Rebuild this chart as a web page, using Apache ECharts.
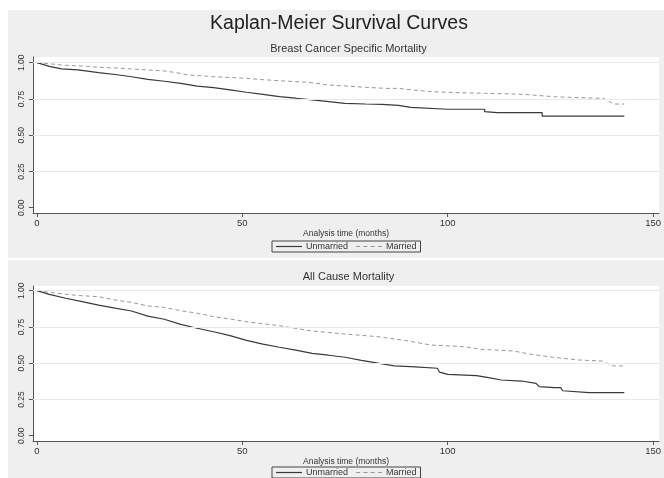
<!DOCTYPE html>
<html>
<head>
<meta charset="utf-8">
<script src="https://cdn.jsdelivr.net/npm/echarts@6/dist/echarts.min.js"></script>
<style>
html,body{margin:0;padding:0;background:#fff;}
#chart{width:664px;height:478px;}
</style>
</head>
<body>
<div id="chart"></div>
<script>
// ---- Data ----
var xTicks = [0, 50, 100, 150];
var yTicks = [0, 0.25, 0.5, 0.75, 1.0];
var seriesNames = ['Unmarried', 'Married'];
var titles = ['Kaplan-Meier Survival Curves', 'Breast Cancer Specific Mortality', 'All Cause Mortality'];
var xAxisTitle = 'Analysis time (months)';

// Breast cancer specific mortality (time in months, survival probability)
var bcsmUnmarriedTime = [0, 3, 6, 10, 15, 20, 23, 27, 31, 35, 39, 43, 47, 51, 55, 59, 63, 67, 71, 75, 80, 84, 88, 91, 100, 109, 109, 112, 123, 123, 143];
var bcsmUnmarriedSurv = [1.0, 0.975, 0.957, 0.95, 0.931, 0.915, 0.903, 0.885, 0.872, 0.858, 0.839, 0.828, 0.812, 0.796, 0.781, 0.766, 0.755, 0.743, 0.732, 0.72, 0.715, 0.712, 0.706, 0.692, 0.679, 0.679, 0.662, 0.655, 0.655, 0.632, 0.632];
var bcsmMarriedTime = [0, 4, 6, 12, 15, 20, 23, 27, 31, 34, 37, 40, 43, 48, 51, 55, 60, 66, 71, 76, 80, 85, 88, 90, 96, 103, 109, 118.5, 118.5, 126, 132, 138, 139, 140.5, 143];
var bcsmMarriedSurv = [1.0, 0.99, 0.984, 0.975, 0.968, 0.963, 0.957, 0.95, 0.943, 0.931, 0.915, 0.91, 0.903, 0.897, 0.892, 0.883, 0.874, 0.865, 0.846, 0.838, 0.83, 0.823, 0.823, 0.816, 0.80, 0.793, 0.789, 0.782, 0.77, 0.765, 0.759, 0.754, 0.736, 0.715, 0.715];

// All cause mortality
var acmUnmarriedTime = [0, 3, 7, 11, 15, 19, 23, 27, 31, 35, 39, 43, 47, 51, 55, 59, 63, 67, 71, 75, 79, 83, 87, 91, 97.5, 98, 100, 107, 110, 113, 118, 121.5, 122.3, 126, 127.5, 128, 134.4, 143];
var acmUnmarriedSurv = [1.0, 0.975, 0.948, 0.925, 0.901, 0.88, 0.86, 0.825, 0.803, 0.768, 0.741, 0.717, 0.69, 0.657, 0.632, 0.61, 0.59, 0.568, 0.555, 0.541, 0.52, 0.5, 0.481, 0.476, 0.465, 0.438, 0.423, 0.414, 0.4, 0.384, 0.377, 0.361, 0.338, 0.331, 0.331, 0.31, 0.297, 0.297];
var acmMarriedTime = [0, 4, 7, 11, 15, 19, 23, 27, 31, 35, 39, 43, 47, 51, 55, 59, 63, 67, 71, 75, 79, 83, 87, 90, 93, 96, 104, 108, 116, 120, 125.5, 132, 137.6, 139.2, 140.4, 143];
var acmMarriedSurv = [1.0, 0.985, 0.975, 0.965, 0.959, 0.936, 0.92, 0.895, 0.885, 0.862, 0.845, 0.821, 0.805, 0.786, 0.772, 0.759, 0.74, 0.722, 0.712, 0.701, 0.692, 0.683, 0.667, 0.655, 0.64, 0.625, 0.614, 0.596, 0.584, 0.563, 0.541, 0.522, 0.515, 0.495, 0.481, 0.481];

function pairs(t, v) { return t.map(function (x, i) { return [x, v[i]]; }); }

var FONT = "'Liberation Sans', Arial, sans-serif";
var AXIS_COLOR = '#555';
var TEXT_COLOR = '#333';
var SOLID_COLOR = '#3a3a3a';
var DASH_COLOR = '#999999';

function makeX(gi) {
  return {
    type: 'value', gridIndex: gi, min: -0.97, max: 151.45,
    axisLine: { show: true, onZero: false, lineStyle: { color: AXIS_COLOR, width: 1 } },
    axisTick: { show: true, length: 4, customValues: xTicks, lineStyle: { color: AXIS_COLOR } },
    axisLabel: { customValues: xTicks, color: TEXT_COLOR, fontSize: 9.5, fontFamily: FONT, margin: 5 },
    splitLine: { show: false },
    name: xAxisTitle, nameLocation: 'middle', nameGap: 8,
    nameTextStyle: { color: TEXT_COLOR, fontSize: 8.5, fontFamily: FONT }
  };
}
function makeY(gi, max) {
  return {
    type: 'value', gridIndex: gi, min: -0.0366, max: max,
    axisLine: { show: true, onZero: false, lineStyle: { color: AXIS_COLOR, width: 1 } },
    axisTick: { show: true, length: 4, customValues: yTicks, lineStyle: { color: AXIS_COLOR } },
    axisLabel: { customValues: yTicks, rotate: 90, color: TEXT_COLOR, fontSize: 8.5, fontFamily: FONT, margin: 7,
      formatter: function (v) { return v.toFixed(2); } },
    splitLine: { show: false }
  };
}
var gridLineMark = {
  silent: true, symbol: 'none', label: { show: false },
  lineStyle: { color: '#e9e9e9', type: 'solid', width: 1 },
  data: yTicks.filter(function (v) { return v > 0; }).map(function (v) { return { yAxis: v }; })
};
function makeSeries(gi, name, data, dashed, withGrid) {
  var s = {
    type: 'line', name: name, xAxisIndex: gi, yAxisIndex: gi, data: data,
    symbol: 'none', showSymbol: false, animation: false,
    lineStyle: dashed ? { color: DASH_COLOR, width: 1, type: [4, 3] } : { color: SOLID_COLOR, width: 1.2 },
    itemStyle: { color: dashed ? DASH_COLOR : SOLID_COLOR },
    z: dashed ? 3 : 4
  };
  if (withGrid) s.markLine = gridLineMark;
  return s;
}
var SOLID_ICON = 'path://M0 0H26V1.2H0Z';
var DASH_ICON = 'path://M0 0H4V1H0Z M7 0H11V1H7Z M14 0H18V1H14Z M21 0H25V1H21Z';
function makeLegend(top) {
  return {
    show: true, left: 272, top: top, orient: 'horizontal',
    data: [
      { name: seriesNames[0], icon: SOLID_ICON, itemStyle: { color: SOLID_COLOR } },
      { name: seriesNames[1], icon: DASH_ICON, itemStyle: { color: DASH_COLOR } }
    ],
    itemWidth: 26, itemHeight: 1.2, itemGap: 8,
    padding: [1, 4, 1, 4], borderColor: '#444', borderWidth: 1, borderRadius: 0,
    backgroundColor: 'transparent',
    textStyle: { color: TEXT_COLOR, fontSize: 9, fontFamily: FONT, padding: [0, 0, 0, -1] },
    selectedMode: false
  };
}

var chart = echarts.init(document.getElementById('chart'), null, { renderer: 'canvas' });
chart.setOption({
  backgroundColor: '#ffffff',
  animation: false,
  graphic: [
    { type: 'rect', z: -10, silent: true, shape: { x: 8, y: 10, width: 656, height: 248 }, style: { fill: '#efefef' } },
    { type: 'rect', z: -10, silent: true, shape: { x: 8, y: 260, width: 656, height: 218 }, style: { fill: '#efefef' } }
  ],
  title: [
    { text: titles[0], left: 334, top: 9, textAlign: 'center',
      textStyle: { fontSize: 19.5, fontWeight: 'normal', color: '#222', fontFamily: FONT } },
    { text: titles[1], left: 343.5, top: 38.5, textAlign: 'center',
      textStyle: { fontSize: 11, fontWeight: 'normal', color: TEXT_COLOR, fontFamily: FONT } },
    { text: titles[2], left: 343.5, top: 266.5, textAlign: 'center',
      textStyle: { fontSize: 11, fontWeight: 'normal', color: TEXT_COLOR, fontFamily: FONT } }
  ],
  grid: [
    { left: 33, right: 0, top: 57, height: 156, show: true, backgroundColor: '#ffffff', borderWidth: 0, containLabel: false },
    { left: 33, right: 0, top: 286, height: 155, show: true, backgroundColor: '#ffffff', borderWidth: 0, containLabel: false }
  ],
  xAxis: [makeX(0), makeX(1)],
  yAxis: [makeY(0, 1.0393), makeY(1, 1.0324)],
  legend: [makeLegend(241), makeLegend(467)],
  series: [
    makeSeries(0, seriesNames[0], pairs(bcsmUnmarriedTime, bcsmUnmarriedSurv), false, true),
    makeSeries(0, seriesNames[1], pairs(bcsmMarriedTime, bcsmMarriedSurv), true, false),
    makeSeries(1, seriesNames[0], pairs(acmUnmarriedTime, acmUnmarriedSurv), false, true),
    makeSeries(1, seriesNames[1], pairs(acmMarriedTime, acmMarriedSurv), true, false)
  ]
});
</script>
</body>
</html>
